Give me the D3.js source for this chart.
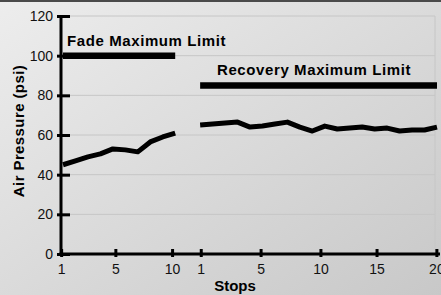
<!DOCTYPE html>
<html>
<head>
<meta charset="utf-8">
<script src="https://cdn.jsdelivr.net/npm/d3@7"></script>
<style>
  html, body { margin: 0; padding: 0; }
  svg { display: block; font-family: "Liberation Sans", Arial, sans-serif; }
</style>
</head>
<body>
<div id="chart"></div>
<script>
// fade section: stops 1..10, recovery section: stops 1..20
const fadeValues = [45, 47, 49, 50.5, 53, 52.5, 51.5, 56.5, 59, 61];
const recoveryValues = [65, 65.5, 66, 66.5, 64, 64.5, 65.5, 66.5, 64, 62,
                        64.5, 63, 63.5, 64, 63, 63.5, 62, 62.5, 62.5, 64];
const fadeLimit = 100, recoveryLimit = 85;
const gapSlots = 1; // empty slot between the two sections

const yTicks = [0, 20, 40, 60, 80, 100, 120];
// tick positions along the slot axis, as the original places them
const xTickSlots = [-0.15, 4.2, 8.75, 11.05, 15.85, 20.65, 25.15, 29.95];
const xTickLabels = ["1", "5", "10", "1", "5", "10", "15", "20"];

const width = 441, height = 295;
const svg = d3.select("#chart")
    .append("svg")
    .attr("width", width)
    .attr("height", height)
;

const defs = svg.append("defs");
const grad = defs.append("linearGradient")
    .attr("id", "bg")
    .attr("x1", 0).attr("y1", 0)
    .attr("x2", 1).attr("y2", 1)
;
grad.append("stop").attr("offset", 0).attr("stop-color", "#ededed");
grad.append("stop").attr("offset", 1).attr("stop-color", "#c8c8c8");

svg.append("rect")
    .attr("width", width)
    .attr("height", height)
    .attr("fill", "url(#bg)")
;
svg.append("rect")
    .attr("width", width)
    .attr("height", 2)
    .attr("fill", "#4a4a4a")
;

const fadeN = fadeValues.length;
const recStart = fadeN + gapSlots;
const lastSlot = recStart + recoveryValues.length - 1;

const x = d3.scaleLinear().domain([0, lastSlot]).range([63, 437]);
const y = d3.scaleLinear().domain([0, 120]).range([254, 16]);

const plotLeft = 61, plotRight = 435;

// gridlines
svg.append("g")
    .selectAll("line")
    .data(yTicks.filter(d => d > 0))
    .join("line")
    .attr("x1", plotLeft)
    .attr("x2", plotRight)
    .attr("y1", d => y(d))
    .attr("y2", d => y(d))
    .style("stroke", "#c6c6c6")
    .style("stroke-width", 1)
;
svg.append("line")
    .attr("x1", plotRight).attr("x2", plotRight)
    .attr("y1", y(120)).attr("y2", y(0))
    .style("stroke", "#c6c6c6")
    .style("stroke-width", 1)
;

// limit bars
const limits = [
    { value: fadeLimit, from: 0, to: fadeN - 1 },
    { value: recoveryLimit, from: recStart, to: lastSlot }
];
svg.append("g")
    .selectAll("line")
    .data(limits)
    .join("line")
    .attr("x1", d => x(d.from))
    .attr("x2", d => x(d.to))
    .attr("y1", d => y(d.value))
    .attr("y2", d => y(d.value))
    .style("stroke", "#000")
    .style("stroke-width", 6.5)
;

// data lines
const line = d3.line()
    .x(d => x(d.slot))
    .y(d => y(d.value))
;
const fadeData = fadeValues.map((v, i) => ({ slot: i, value: v }));
const recData = recoveryValues.map((v, i) => ({ slot: recStart + i, value: v }));

svg.append("g")
    .selectAll("path")
    .data([fadeData, recData])
    .join("path")
    .attr("d", line)
    .style("fill", "none")
    .style("stroke", "#000")
    .style("stroke-width", 5)
    .style("stroke-linejoin", "round")
;

// y axis
const yAxis = svg.append("g")
    .attr("transform", `translate(${plotLeft},0)`)
    .call(d3.axisLeft(y).tickValues(yTicks).tickSize(0).tickPadding(8))
;
yAxis.select(".domain")
    .attr("d", `M0,${y(120)}V${y(0)}`)
    .style("stroke", "#000")
    .style("stroke-width", 3)
;
yAxis.selectAll(".tick line")
    .attr("x1", -4).attr("x2", 9)
    .style("stroke", "#000")
    .style("stroke-width", 3)
;
yAxis.selectAll(".tick text")
    .style("font-size", "14px")
    .style("fill", "#111")
;

// x axis
const xAxis = svg.append("g")
    .attr("transform", `translate(0,${y(0)})`)
    .call(d3.axisBottom(x)
        .tickValues(xTickSlots)
        .tickFormat((d, i) => xTickLabels[i])
        .tickSize(0)
        .tickPadding(10))
;
xAxis.select(".domain")
    .attr("d", `M${plotLeft - 1.5},0H440`)
    .style("stroke", "#000")
    .style("stroke-width", 3)
;
xAxis.selectAll(".tick line")
    .attr("y1", -5).attr("y2", 3)
    .style("stroke", "#000")
    .style("stroke-width", 3)
;
xAxis.selectAll(".tick text")
    .style("font-size", "14px")
    .style("fill", "#111")
;

// titles
svg.append("text")
    .attr("x", 67)
    .attr("y", 46)
    .style("font-size", "15px")
    .style("font-weight", "bold")
    .style("letter-spacing", "0.6px")
    .text("Fade Maximum Limit")
;
svg.append("text")
    .attr("x", 217)
    .attr("y", 75)
    .style("font-size", "15px")
    .style("font-weight", "bold")
    .style("letter-spacing", "0.6px")
    .text("Recovery Maximum Limit")
;
svg.append("text")
    .attr("x", 235)
    .attr("y", 291)
    .attr("text-anchor", "middle")
    .style("font-size", "15px")
    .style("font-weight", "bold")
    .text("Stops")
;
svg.append("text")
    .attr("transform", "translate(24,131) rotate(-90)")
    .attr("text-anchor", "middle")
    .style("font-size", "15px")
    .style("font-weight", "bold")
    .style("letter-spacing", "0.4px")
    .text("Air Pressure (psi)")
;
</script>
</body>
</html>
